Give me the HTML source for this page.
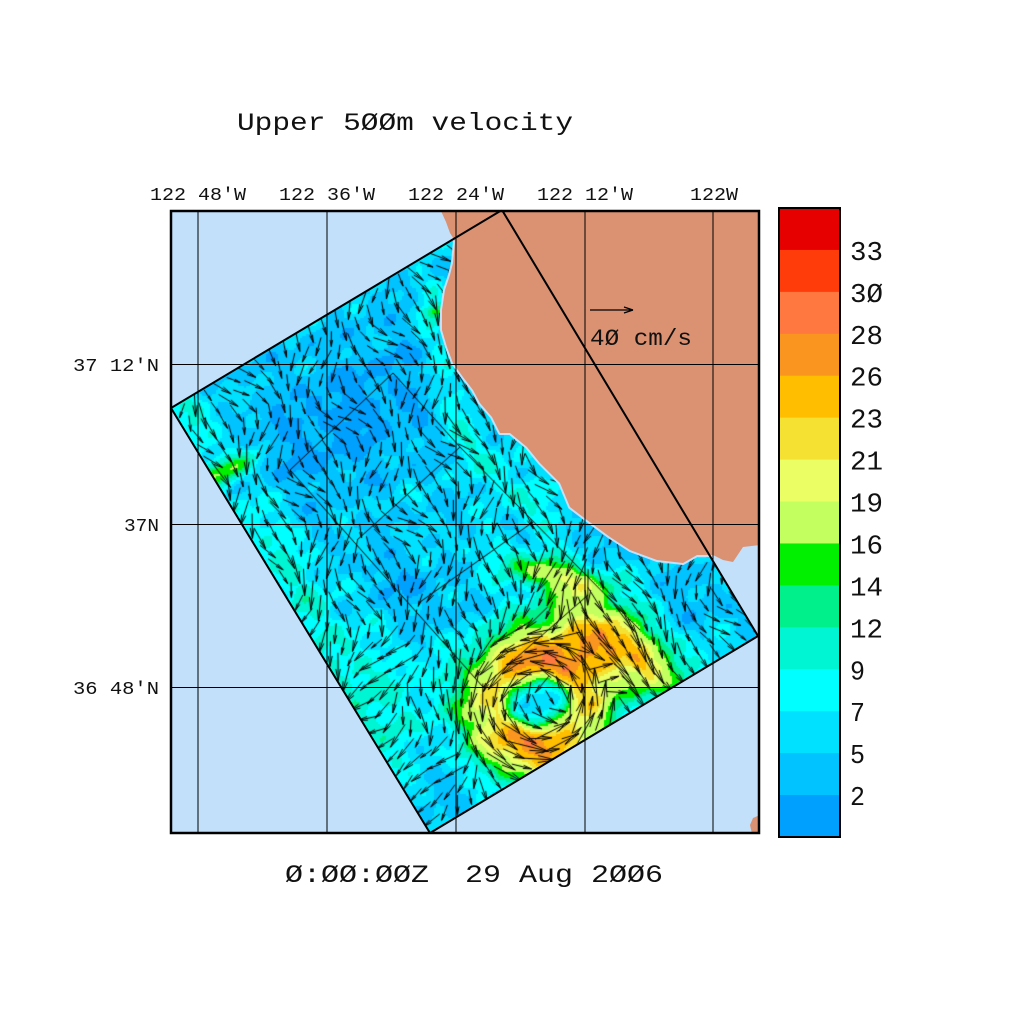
<!DOCTYPE html>
<html><head><meta charset="utf-8">
<style>
html,body{margin:0;padding:0;background:#fff;width:1024px;height:1024px;overflow:hidden}
#bg,#c,#fg{position:absolute;left:0;top:0}
text{font-family:"Liberation Mono","DejaVu Sans Mono",monospace;fill:#111}
</style></head>
<body>
<svg id="bg" width="1024" height="1024" viewBox="0 0 1024 1024">
<rect x="0" y="0" width="1024" height="1024" fill="#fff"/>
<rect x="171" y="211" width="588" height="622" fill="#c2e0fa"/>
<polygon points="171,408 502,210 758,636 430,833" fill="#00d0ff"/>
</svg>
<canvas id="c" width="1024" height="1024"></canvas>
<svg id="fg" width="1024" height="1024" viewBox="0 0 1024 1024">
<defs><clipPath id="fr"><rect x="171" y="211" width="588" height="622"/></clipPath></defs>
<g clip-path="url(#fr)">
<polygon id="land" points="441,211 446,222 450,233 455,241 453,263 450,275 445,290 442,310 442,330 447,347 453,363 463,377 473,390 480,403 492,417 500,433 510,433 527,447 540,463 560,483 570,507 587,520 610,537 630,550 657,560 683,563 697,555 713,555 723,560 733,562 743,547 760,545 760,211" fill="#da9273" stroke="#c2e0fa" stroke-width="4" stroke-linejoin="round"/>
<polygon points="441,211 446,222 450,233 455,241 453,263 450,275 445,290 442,310 442,330 447,347 453,363 463,377 473,390 480,403 492,417 500,433 510,433 527,447 540,463 560,483 570,507 587,520 610,537 630,550 657,560 683,563 697,555 713,555 723,560 733,562 743,547 760,545 760,211" fill="#da9273"/>
<polygon points="752,834 750,825 753,818 760,815 760,834" fill="#da9273"/>
<g stroke="#000" stroke-width="1" fill="none">
<line x1="198" y1="208" x2="198" y2="836"/>
<line x1="327" y1="208" x2="327" y2="836"/>
<line x1="456" y1="208" x2="456" y2="836"/>
<line x1="585" y1="208" x2="585" y2="836"/>
<line x1="713" y1="208" x2="713" y2="836"/>
<line x1="168" y1="364.5" x2="762" y2="364.5"/>
<line x1="168" y1="524.5" x2="762" y2="524.5"/>
<line x1="168" y1="687.5" x2="762" y2="687.5"/>
</g>
<polygon points="171,408 502,210 758,636 430,833" fill="none" stroke="#000" stroke-width="2"/>
</g>
<rect x="171" y="211" width="588" height="622" fill="none" stroke="#000" stroke-width="2.5"/>
<g stroke="#000" stroke-width="1.2">
<line x1="590" y1="310" x2="633" y2="310"/>
<line x1="633" y1="310" x2="624" y2="307"/>
<line x1="633" y1="310" x2="624" y2="313"/>
</g>
<text x="590" y="345" font-size="23" textLength="102" lengthAdjust="spacingAndGlyphs">4Ø cm/s</text>
<text x="237" y="130" font-size="25" textLength="336" lengthAdjust="spacingAndGlyphs">Upper 5ØØm velocity</text>
<text x="285" y="882" font-size="25" textLength="378" lengthAdjust="spacingAndGlyphs" xml:space="preserve">Ø:ØØ:ØØZ&#160;&#160;29 Aug 2ØØ6</text>
<g font-size="18">
<text x="150" y="200" textLength="96" lengthAdjust="spacingAndGlyphs">122 48'W</text>
<text x="279" y="200" textLength="96" lengthAdjust="spacingAndGlyphs">122 36'W</text>
<text x="408" y="200" textLength="96" lengthAdjust="spacingAndGlyphs">122 24'W</text>
<text x="537" y="200" textLength="96" lengthAdjust="spacingAndGlyphs">122 12'W</text>
<text x="690" y="200" textLength="48" lengthAdjust="spacingAndGlyphs">122W</text>
<text x="73" y="371" textLength="86" lengthAdjust="spacingAndGlyphs">37 12'N</text>
<text x="124" y="531" textLength="35" lengthAdjust="spacingAndGlyphs">37N</text>
<text x="73" y="694" textLength="86" lengthAdjust="spacingAndGlyphs">36 48'N</text>
</g>
<g id="cb"></g>
</svg>
<script>
(function(){
const cols=['#e60000','#ff3c0a','#ff7840','#fa9620','#ffbe00','#f5e132','#ebff64','#c3ff5f','#00f000','#00f08c','#00f5d2','#00ffff','#00e1ff','#00c3ff','#00a0ff'];
const labs=['33','3Ø','28','26','23','21','19','16','14','12','9','7','5','2'];
const NS='http://www.w3.org/2000/svg';
const cb=document.getElementById('cb');
const top=208,bot=837,h=(bot-top)/15;
for(let i=0;i<15;i++){const r=document.createElementNS(NS,'rect');r.setAttribute('x',779);r.setAttribute('y',top+i*h);r.setAttribute('width',61);r.setAttribute('height',h+0.6);r.setAttribute('fill',cols[i]);cb.appendChild(r);}
const br=document.createElementNS(NS,'rect');br.setAttribute('x',779);br.setAttribute('y',top);br.setAttribute('width',61);br.setAttribute('height',bot-top);br.setAttribute('fill','none');br.setAttribute('stroke','#000');br.setAttribute('stroke-width','2');cb.appendChild(br);
for(let k=1;k<=14;k++){const t=document.createElementNS(NS,'text');t.setAttribute('x',850);t.setAttribute('y',(top+k*h+10).toFixed(1));t.setAttribute('font-size','27');const s=labs[k-1];t.setAttribute('textLength',s.length==2?33:15);t.setAttribute('lengthAdjust','spacingAndGlyphs');t.textContent=s;cb.appendChild(t);}

const cv=document.getElementById('c');const ctx=cv.getContext('2d');
const D=[[171,408],[502,210],[758,636],[430,833]];
function inside(x,y){for(let i=0;i<4;i++){const a=D[i],b=D[(i+1)%4];if((b[0]-a[0])*(y-a[1])-(b[1]-a[1])*(x-a[0])<0)return false;}return true;}
const pal=[[0,160,255],[0,195,255],[0,225,255],[0,255,255],[0,245,210],[0,240,140],[0,240,0],[195,255,95],[235,255,100],[245,225,50],[255,190,0],[250,150,32],[255,120,64],[255,60,10],[230,0,0]];
const lev=[2,5,7,9,12,14,16,19,21,23,26,28,30,33];
function ci(s){let i=0;while(i<lev.length&&s>=lev[i])i++;return i;}
function gr(x,y,cx,cy,sa,sb,an){const dx=x-cx,dy=y-cy,c=Math.cos(an),s=Math.sin(an);const u=dx*c+dy*s,v=-dx*s+dy*c;return Math.exp(-(u*u/(sa*sa)+v*v/(sb*sb)));}
function segd(x,y,pts){let m=1e9;for(let i=0;i<pts.length-1;i++){const ax=pts[i][0],ay=pts[i][1],bx=pts[i+1][0],by=pts[i+1][1];const vx=bx-ax,vy=by-ay;let t=((x-ax)*vx+(y-ay)*vy)/(vx*vx+vy*vy);t=Math.max(0,Math.min(1,t));const px=ax+t*vx-x,py=ay+t*vy-y;const d=px*px+py*py;if(d<m)m=d;}return Math.sqrt(m);}
const coastBand=[[438,300],[440,380],[470,440],[505,480],[545,515]];
const leftBand=[[190,418],[255,515],[315,615],[355,700],[395,790]];
function eddy(x,y){const ex=x-538,ey=(y-703)*1.05;const r=Math.hypot(ex,ey);const th=Math.atan2(ey,ex);const A=19+3.5*Math.cos(2*(th+1.5));const q=r<43?(r-43)/19:(r-43)/40;return {v:A*Math.exp(-q*q),r:r,ex:ex,ey:ey};}
function spd(x,y){
 let s=5.3;
 s+=1.4*Math.sin(x*0.071+y*0.043+1.3)*Math.cos(y*0.067-x*0.021+0.4);
 s+=1.0*Math.sin(x*0.13-y*0.11+2.1);
 s+=0.8*Math.cos(x*0.052+y*0.16+0.7);
 s+=0.6*Math.sin(x*0.21+y*0.19);
 s-=4.3*gr(x,y,350,415,135,65,-0.55);
 s-=3.0*gr(x,y,410,590,50,28,0.7);
 s-=3.0*gr(x,y,395,805,55,30,-0.5);
 s-=2.5*gr(x,y,690,605,45,22,-0.5);
 s-=2.0*gr(x,y,600,520,50,22,0.6);
 let d=segd(x,y,coastBand);s+=3.8*Math.exp(-(d*d)/400);
 d=segd(x,y,leftBand);s+=3.8*Math.exp(-(d*d)/900);
 s+=9*gr(x,y,228,470,11,32,1.03);
 s+=7*gr(x,y,433,312,7,14,1.4);
 s+=2.5*gr(x,y,400,690,70,55,0);
 s+=eddy(x,y).v;
 s+=17*gr(x,y,620,643,78,35,0.64);
 s+=5*gr(x,y,640,665,30,7,0.95);
 s+=4*gr(x,y,605,640,25,6,0.95);
 s+=11*gr(x,y,555,575,55,16,0.25);
 return s;
}
const x0=170,y0=208,W=592,H=628;
const img=ctx.createImageData(W,H);const dd=img.data;
for(let by=0;by<H;by+=2){for(let bx=0;bx<W;bx+=2){const cx=x0+bx+1,cy=y0+by+1;const c=pal[ci(spd(cx,cy))];
 for(let yy=0;yy<2;yy++)for(let xx=0;xx<2;xx++){if(by+yy>=H||bx+xx>=W)continue;const px=x0+bx+xx+0.5,py=y0+by+yy+0.5;const idx=((by+yy)*W+(bx+xx))*4;if(inside(px,py)){dd[idx]=c[0];dd[idx+1]=c[1];dd[idx+2]=c[2];dd[idx+3]=255;}else{dd[idx+3]=0;}}}}
const off=document.createElement('canvas');off.width=W;off.height=H;off.getContext('2d').putImageData(img,0,0);
ctx.drawImage(off,x0,y0);
const landPts=document.getElementById('land').getAttribute('points').trim().split(/\s+/).map(p=>p.split(',').map(Number));
const lp=new Path2D();lp.moveTo(landPts[0][0],landPts[0][1]);for(let i=1;i<landPts.length;i++)lp.lineTo(landPts[i][0],landPts[i][1]);lp.closePath();
ctx.save();ctx.beginPath();ctx.moveTo(D[0][0],D[0][1]);for(let i=1;i<4;i++)ctx.lineTo(D[i][0],D[i][1]);ctx.closePath();ctx.clip();
ctx.strokeStyle='#000';ctx.lineWidth=1;
const il=[[[290,470],[393,373]],[[290,470],[483,687]],[[393,373],[460,447],[640,630]],[[357,540],[460,447]],[[420,602],[533,522]],[[483,687],[588,595]]];
for(const L of il){ctx.beginPath();ctx.moveTo(L[0][0],L[0][1]);for(let i=1;i<L.length;i++)ctx.lineTo(L[i][0],L[i][1]);ctx.stroke();}
const L0=D[0];const eu=[331/386,-198/386],ev=[259/498,425/498];
ctx.lineWidth=1.0;ctx.strokeStyle='#000';
for(let a=8;a<386;a+=15){for(let b=8;b<498;b+=15){
 const x=L0[0]+a*eu[0]+b*ev[0],y=L0[1]+a*eu[1]+b*ev[1];
 if(ctx.isPointInPath(lp,x,y))continue;
 let t=Math.max(0,Math.min(1,(y-560)/200))*Math.max(0,Math.min(1,(520-x)/150));
 let ang=Math.PI/2-0.35+t*1.6+0.55*Math.sin(x*0.05+y*0.03)+0.4*Math.cos(y*0.07-x*0.021);
 let vx=Math.cos(ang),vy=Math.sin(ang);
 const e=eddy(x,y);const we=Math.min(1,e.v/12);
 if(e.r>1){const tx=e.ey/e.r,ty=-e.ex/e.r;vx=vx*(1-we)+tx*we*1.5;vy=vy*(1-we)+ty*we*1.5;}
 const wj=gr(x,y,618,645,75,38,0.64);vx+=wj*2*0.72;vy+=wj*2*0.7;
 const wn=gr(x,y,555,575,60,20,0.25);vx-=wn*1.5;vy+=wn*0.2;
 const n=Math.hypot(vx,vy)||1;vx/=n;vy/=n;
 const s=spd(x,y);let len=Math.min(42,18+0.85*Math.max(0,s))*(0.85+0.25*Math.sin(x*0.37+y*0.23));
 const hx=x+vx*len/2,hy=y+vy*len/2,tx0=x-vx*len/2,ty0=y-vy*len/2;
 const hh=0.42*len,ww=0.08*len;
 ctx.beginPath();ctx.moveTo(tx0,ty0);ctx.lineTo(hx,hy);
 ctx.moveTo(hx-vx*hh-vy*ww,hy-vy*hh+vx*ww);ctx.lineTo(hx,hy);ctx.lineTo(hx-vx*hh+vy*ww,hy-vy*hh-vx*ww);
 ctx.stroke();
}}
ctx.restore();
})();
</script>
</body></html>
